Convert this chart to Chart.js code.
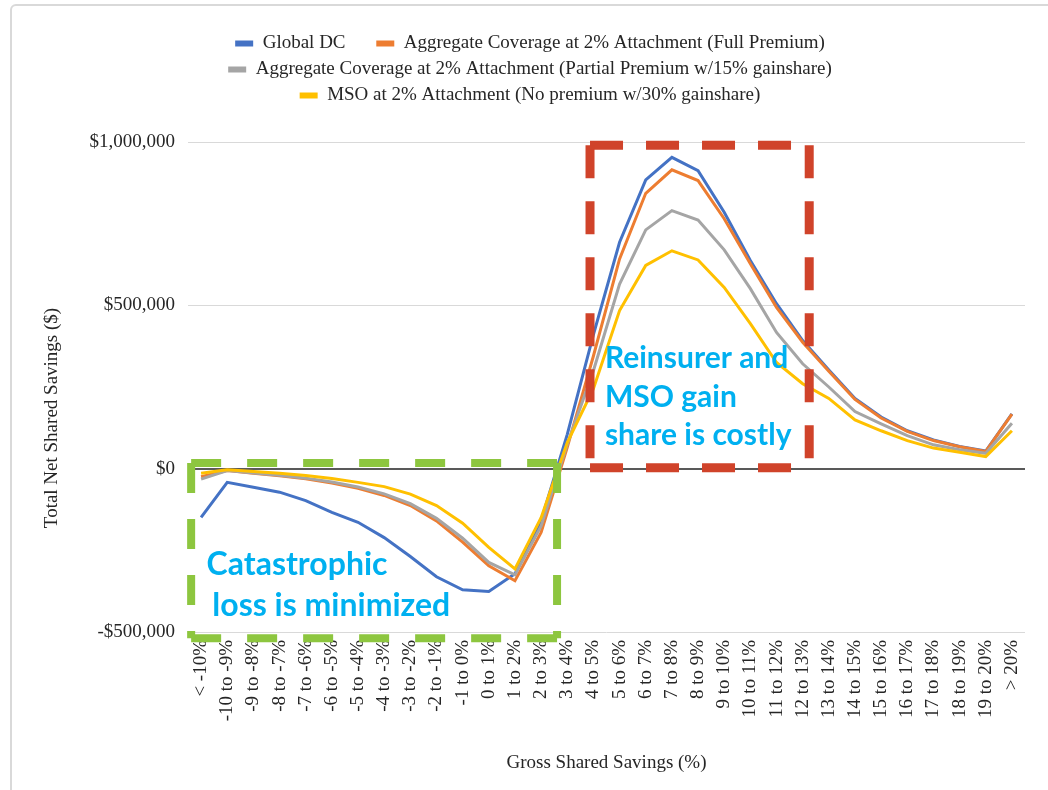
<!DOCTYPE html>
<html>
<head>
<meta charset="utf-8">
<script src="https://cdn.jsdelivr.net/npm/chart.js@4/dist/chart.umd.min.js"></script>
<style>
  html, body { margin: 0; padding: 0; background: #ffffff; overflow: hidden; }
  #frame { position: absolute; left: 10px; top: 4px; width: 1200px; height: 1000px;
           border: 2px solid #d9d9d9; border-radius: 6px; }
  #wrap { position: absolute; left: 0; top: 0; width: 1048px; height: 790px; }
</style>
</head>
<body>
<div id="frame"></div>
<div id="wrap"><canvas id="c"></canvas></div>
<script>
// ---------- data ----------
const categories = [
  "< -10%", "-10 to -9%", "-9 to -8%", "-8 to -7%", "-7 to -6%", "-6 to -5%", "-5 to -4%",
  "-4 to -3%", "-3 to -2%", "-2 to -1%", "-1 to 0%", "0 to 1%", "1 to 2%", "2 to 3%",
  "3 to 4%", "4 to 5%", "5 to 6%", "6 to 7%", "7 to 8%", "8 to 9%", "9 to 10%",
  "10 to 11%", "11 to 12%", "12 to 13%", "13 to 14%", "14 to 15%", "15 to 16%",
  "16 to 17%", "17 to 18%", "18 to 19%", "19 to 20%", "> 20%"
];

const seriesNames = [
  "Global DC",
  "Aggregate Coverage at 2% Attachment (Full Premium)",
  "Aggregate Coverage at 2% Attachment (Partial Premium w/15% gainshare)",
  "MSO at 2% Attachment (No premium w/30% gainshare)"
];

const globalDC = [
  -149000, -42000, -57000, -72000, -98000, -134000, -164000, -211000, -269000, -331000,
  -371000, -376000, -322000, -159000, 105000, 410000, 693000, 884000, 953000, 912000,
  785000, 637000, 505000, 392000, 302000, 215000, 158000, 116000, 88000, 68000, 54000, 168000
];

const fullPremium = [
  -25000, -6000, -14000, -22000, -31000, -44000, -60000, -82000, -113000, -160000,
  -225000, -297000, -343000, -195000, 65000, 345000, 642000, 843000, 915000, 882000,
  765000, 627000, 494000, 387000, 298000, 212000, 155000, 114000, 86000, 67000, 53000, 167000
];

const partialPremium = [
  -32000, -6000, -13000, -20000, -29000, -41000, -56000, -77000, -107000, -152000,
  -213000, -287000, -325000, -175000, 75000, 300000, 565000, 731000, 790000, 761000,
  670000, 551000, 417000, 321000, 250000, 175000, 137000, 101000, 73000, 58000, 47000, 139000
];

const msoNoPremium = [
  -14000, -3000, -9000, -14000, -21000, -30000, -42000, -55000, -78000, -113000,
  -167000, -241000, -307000, -150000, 80000, 245000, 484000, 622000, 667000, 639000,
  555000, 444000, 325000, 260000, 215000, 149000, 116000, 86000, 63000, 50000, 37000, 116000
];

const yTickValues = [-500000, 0, 500000, 1000000];

const xTitle = "Gross Shared Savings (%)";
const yTitle = "Total Net Shared Savings ($)";

const greenNote = ["Catastrophic", "loss is minimized"];
const redNote = ["Reinsurer and", "MSO gain", "share is costly"];

// ---------- styling ----------
const SERIF = "'Liberation Serif', 'Times New Roman', serif";
const TEXT = "#262626";
const colors = ["#4472C4", "#ED7D31", "#A5A5A5", "#FFC000"];

function fmtMoney(v) {
  const s = Math.abs(v).toLocaleString("en-US");
  return (v < 0 ? "-$" : "$") + s;
}

const legendSpacer = {
  id: "legendSpacer",
  beforeLayout(chart) {
    const lg = chart.legend;
    if (lg && !lg.__spaced) {
      const orig = lg.fit;
      lg.fit = function () { orig.apply(this, arguments); this.height += 27; };
      lg.__spaced = true;
    }
  }
};

function dashRect(ctx, x0, y0, x1, y1, color, width, dash) {
  ctx.save();
  ctx.strokeStyle = color;
  ctx.lineWidth = width;
  ctx.setLineDash(dash);
  ctx.lineCap = "butt";
  ctx.beginPath();
  ctx.moveTo(x0, y0); ctx.lineTo(x1, y0);
  ctx.stroke();
  ctx.beginPath();
  ctx.moveTo(x1, y0); ctx.lineTo(x1, y1);
  ctx.stroke();
  ctx.beginPath();
  ctx.moveTo(x0, y1); ctx.lineTo(x1, y1);
  ctx.stroke();
  ctx.beginPath();
  ctx.moveTo(x0, y0); ctx.lineTo(x0, y1);
  ctx.stroke();
  ctx.restore();
}

const annotations = {
  id: "annotations",
  afterDatasetsDraw(chart) {
    const { ctx, scales: { x, y } } = chart;
    dashRect(ctx, x.getPixelForValue(-0.38), y.getPixelForValue(17000),
             x.getPixelForValue(13.61), y.getPixelForValue(-519000),
             "#8DC63F", 8, [30, 26]);
    dashRect(ctx, x.getPixelForValue(14.87), y.getPixelForValue(990000),
             x.getPixelForValue(23.25), y.getPixelForValue(3000),
             "#D0432A", 9, [33, 23]);
    ctx.save();
    ctx.fillStyle = "#00B0F0";
    ctx.textAlign = "left";
    ctx.textBaseline = "alphabetic";
    ctx.font = "bold 32px Lato, 'Open Sans', sans-serif";
    ctx.fillText(greenNote[0], x.getPixelForValue(0.21), y.getPixelForValue(-325000));
    ctx.fillText(greenNote[1], x.getPixelForValue(0.43), y.getPixelForValue(-451000));
    ctx.font = "bold 30px Lato, 'Open Sans', sans-serif";
    ctx.fillText(redNote[0], x.getPixelForValue(15.44), y.getPixelForValue(308000));
    ctx.fillText(redNote[1], x.getPixelForValue(15.44), y.getPixelForValue(189000));
    ctx.fillText(redNote[2], x.getPixelForValue(15.44), y.getPixelForValue(72000));
    ctx.restore();
  },
  afterDraw(chart) {
    const { ctx } = chart;
    ctx.save();
    ctx.translate(52, 418);
    ctx.rotate(-Math.PI / 2);
    ctx.fillStyle = TEXT;
    ctx.font = "19px " + SERIF;
    ctx.textAlign = "center";
    ctx.textBaseline = "middle";
    ctx.fillText(yTitle, 0, 0);
    ctx.restore();
  }
};

const seriesData = [globalDC, fullPremium, partialPremium, msoNoPremium];

new Chart(document.getElementById("c"), {
  type: "line",
  data: {
    labels: categories,
    datasets: seriesData.map((d, i) => ({
      label: seriesNames[i],
      data: d,
      borderColor: colors[i],
      backgroundColor: colors[i],
      borderWidth: 3,
      pointRadius: 0,
      tension: 0,
      order: 4 - i
    }))
  },
  options: {
    responsive: true,
    maintainAspectRatio: false,
    animation: false,
    layout: { padding: { left: 12, right: 0, top: 27, bottom: 0 } },
    plugins: {
      legend: {
        position: "top",
        labels: {
          font: { family: SERIF, size: 19 },
          color: TEXT,
          boxWidth: 18,
          boxHeight: 6,
          padding: 7,
          sort: (a, b) => a.datasetIndex - b.datasetIndex,
          generateLabels(chart) {
            const items = Chart.defaults.plugins.legend.labels.generateLabels(chart);
            items.forEach(it => {
              it.lineWidth = 0;
              it.fillStyle = it.strokeStyle;
              if (it.datasetIndex === 0) it.text = it.text + "     ";
            });
            return items;
          }
        }
      },
      tooltip: { enabled: false }
    },
    scales: {
      x: {
        offset: true,
        grid: { display: false, drawTicks: false },
        border: { display: false },
        ticks: {
          autoSkip: false, maxRotation: 90, minRotation: 90,
          font: { family: SERIF, size: 19 }, color: TEXT, padding: 8
        },
        title: {
          display: true, text: xTitle,
          font: { family: SERIF, size: 19 }, color: TEXT,
          padding: { top: 0, bottom: 16 }
        },
        afterFit(s) { s.height = 158; }
      },
      y: {
        min: -500000, max: 1000000,
        afterBuildTicks(s) { s.ticks = yTickValues.map(v => ({ value: v })); },
        ticks: {
          callback: v => fmtMoney(v),
          font: { family: SERIF, size: 19 }, color: TEXT, padding: 13
        },
        grid: {
          drawTicks: false,
          color: c => (c.tick && c.tick.value === 0) ? "#595959" : "#d9d9d9",
          lineWidth: c => (c.tick && c.tick.value === 0) ? 2 : 1
        },
        border: { display: false },
        afterFit(s) { s.width = 176; }
      },
      y2: {
        position: "right",
        display: true,
        grid: { display: false, drawTicks: false },
        border: { display: false },
        ticks: { display: false },
        afterFit(s) { s.width = 23; }
      }
    }
  },
  plugins: [legendSpacer, annotations]
});
</script>
</body>
</html>
